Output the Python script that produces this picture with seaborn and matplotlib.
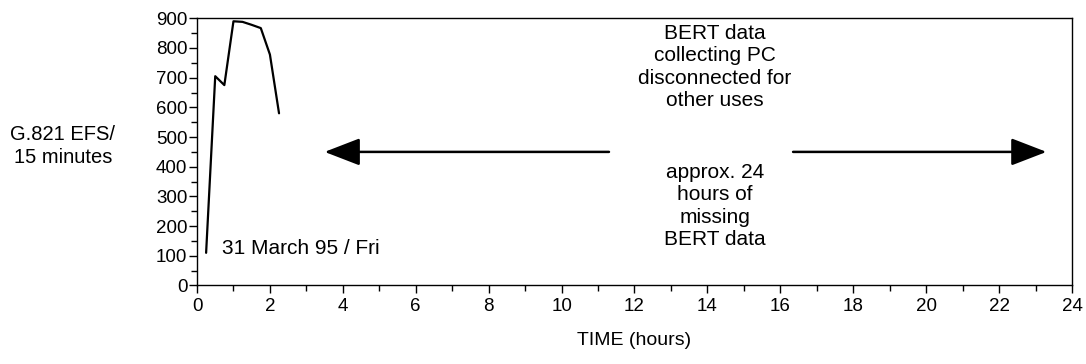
"""G.821 EFS per 15 minutes over one day, with the BERT data gap marked"""
import matplotlib
matplotlib.use("Agg")
import matplotlib.pyplot as plt
from matplotlib.ticker import MultipleLocator
import seaborn as sns
import pandas as pd

# 数据：读图估计
hours = [0.25, 0.5, 0.75, 1.0, 1.25, 1.5, 1.75, 2.0, 2.25]
efs = [110, 705, 675, 890, 888, 878, 867, 778, 580]

x_ticks = list(range(0, 25, 2))
y_ticks = list(range(0, 901, 100))

gap_left = (11.3, 3.5)     # 左箭头：起点 -> 终点 (hours)
gap_right = (16.35, 23.3)  # 右箭头
gap_level = 450

note_top = "BERT data\ncollecting PC\ndisconnected for\nother uses"
note_bottom = "approx. 24\nhours of\nmissing\nBERT data"
date_label = "31 March 95 / Fri"
y_label = "G.821 EFS/\n15 minutes"
x_label = "TIME (hours)"

sns.set_style("ticks")
plt.rcParams['font.family'] = ['Liberation Sans', 'DejaVu Sans']
plt.rcParams['text.color'] = 'black'
plt.rcParams['xtick.labelcolor'] = 'black'
plt.rcParams['ytick.labelcolor'] = 'black'
plt.rcParams['axes.labelcolor'] = 'black'

fig = plt.figure(figsize=(10.86, 3.64), dpi=100)
ax = fig.add_axes([0.1814, 0.2157, 0.9871 - 0.1814, 0.9497 - 0.2157])

df = pd.DataFrame({'hours': hours, 'efs': efs})
sns.lineplot(data=df, x='hours', y='efs', color='black', linewidth=1.6, ax=ax)

ax.set_xlim(0, 24)
ax.set_ylim(0, 900)
ax.set_xticks(x_ticks)
ax.set_yticks(y_ticks)
ax.xaxis.set_minor_locator(MultipleLocator(1))
ax.yaxis.set_minor_locator(MultipleLocator(50))
ax.tick_params(axis='both', which='major', direction='out', length=6,
               width=1, labelsize=13.5, color='black', labelcolor='black')
ax.tick_params(axis='both', which='minor', direction='out', length=4, width=1,
               color='black')
ax.tick_params(axis='y', which='major', pad=1)
ax.tick_params(axis='x', which='major', pad=3)
for s in ax.spines.values():
    s.set_color('black')
    s.set_linewidth(1)

ax.set_xlabel(x_label, fontsize=14, labelpad=12, color='black')
ax.set_ylabel('')
fig.text(0.058, 0.599, y_label, ha='center', va='center', fontsize=14.5,
         multialignment='center', linespacing=1.25, color='black')

# 说明文字
ax.text(14.2, 736, note_top, ha='center', va='center', fontsize=15,
        multialignment='center', linespacing=1.23, color='black')
ax.text(14.2, 268, note_bottom, ha='center', va='center', fontsize=15,
        multialignment='center', linespacing=1.23, color='black')
ax.text(0.68, 126, date_label, ha='left', va='center', fontsize=15,
        color='black')

# 缺失数据箭头
arrow_kw = dict(arrowstyle='-|>,head_length=22,head_width=8.5', color='black',
                lw=1.8, shrinkA=0, shrinkB=0, mutation_scale=1)
ax.annotate('', xy=(gap_left[1], gap_level), xytext=(gap_left[0], gap_level),
            arrowprops=arrow_kw)
ax.annotate('', xy=(gap_right[1], gap_level), xytext=(gap_right[0], gap_level),
            arrowprops=arrow_kw)

fig.savefig('out.png', dpi=100)
